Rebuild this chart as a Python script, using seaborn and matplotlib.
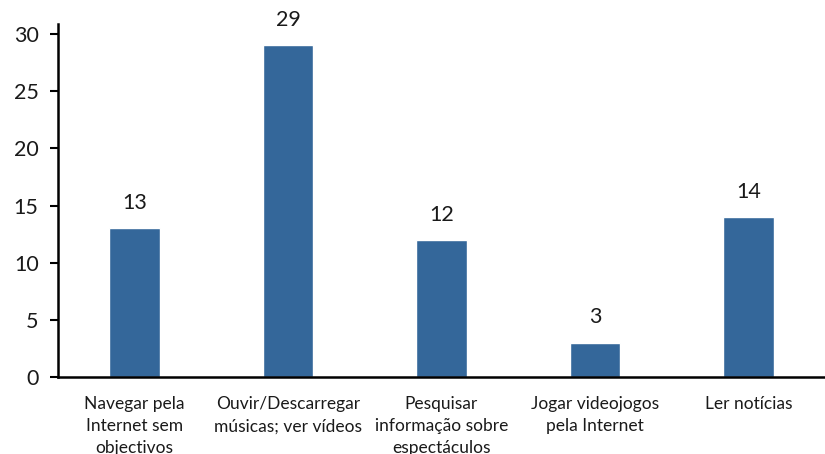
import matplotlib
matplotlib.use("Agg")
import matplotlib.pyplot as plt
import seaborn as sns
import pandas as pd

categories = [
    "Navegar pela\nInternet sem\nobjectivos",
    "Ouvir/Descarregar\nmúsicas; ver vídeos",
    "Pesquisar\ninformação sobre\nespectáculos",
    "Jogar videojogos\npela Internet",
    "Ler notícias",
]
values = [13, 29, 12, 3, 14]
y_ticks = [0, 5, 10, 15, 20, 25, 30]

sns.set_theme(style="white")
plt.rcParams["font.family"] = ["Lato", "DejaVu Sans"]

df = pd.DataFrame({"cat": categories, "val": values})

fig = plt.figure(figsize=(8.25, 4.54), dpi=100)
ax = fig.add_axes([58 / 825, 1 - 377 / 454, 767 / 825, (377 - 24) / 454])

sns.barplot(data=df, x="cat", y="val", color="#34679A", width=0.33,
            saturation=1, ax=ax)

for i, v in enumerate(values):
    ax.annotate(str(v), (i, v), xytext=(0, 11), textcoords="offset points",
                ha="center", va="bottom", fontsize=15.5, color="#1a1a1a")

ax.set_xlim(-0.5, -0.5 + 767 / 155)
ax.set_ylim(0, (377 - 24) / (343 / 30))
ax.set_yticks(y_ticks)
ax.set_yticklabels([str(t) for t in y_ticks], fontsize=15.5, color="#1a1a1a")
ax.set_xlabel("")
ax.set_ylabel("")

# category labels centred under bars, ticks at category boundaries
ax.set_xticks(range(len(categories)))
ax.set_xticklabels(categories, fontsize=12.5, color="#1a1a1a", linespacing=1.45)
ax.tick_params(axis="x", which="major", length=0, pad=14)
ax.set_xticks([i - 0.5 for i in range(len(categories) + 1)], minor=True)
ax.tick_params(axis="x", which="minor", length=6, width=1.5, color="black",
               direction="out")
ax.tick_params(axis="y", length=6, width=1.5, color="black", direction="out",
               left=True, pad=8)

for side in ["top", "right"]:
    ax.spines[side].set_visible(False)
for side in ["left", "bottom"]:
    ax.spines[side].set_color("black")
    ax.spines[side].set_linewidth(1.8)

fig.savefig("out.png", dpi=100)
